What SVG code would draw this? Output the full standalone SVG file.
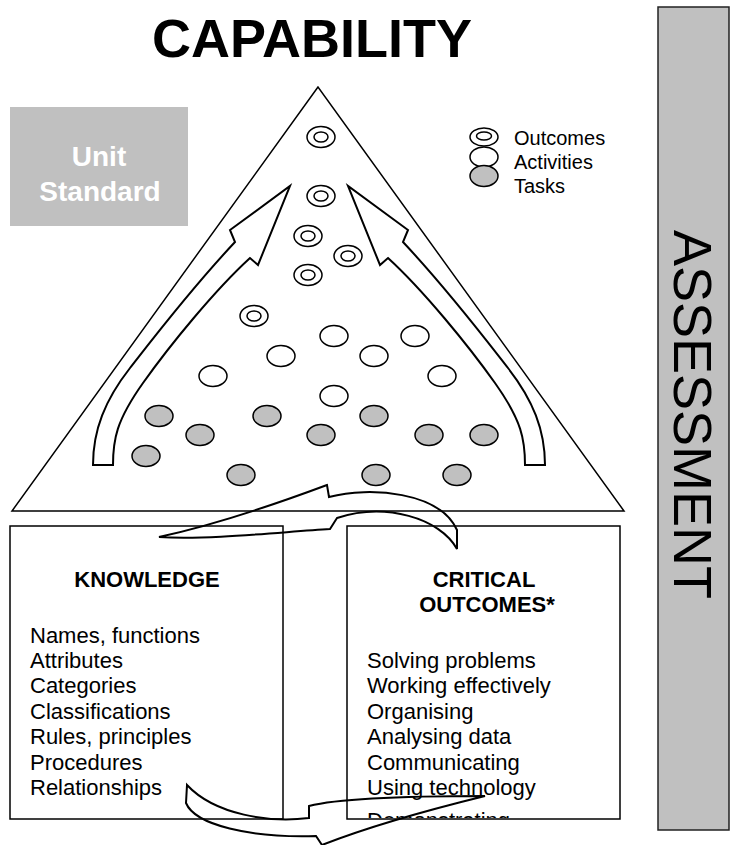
<svg xmlns="http://www.w3.org/2000/svg" width="731" height="845" viewBox="0 0 731 845">
  <style>
    text { font-family: "Liberation Sans", Arial, sans-serif; fill: #000; }
    .title { font-size: 54px; font-weight: bold; text-anchor: middle; }
    .unit { font-size: 28px; font-weight: bold; fill: #fff; text-anchor: middle; }
    .legend { font-size: 20px; }
    .head { font-size: 22px; font-weight: bold; text-anchor: middle; }
    .item { font-size: 22px; }
    .vert { font-size: 54px; }
    .frame { fill: #fff; stroke: #000; stroke-width: 1.5; }
    .grey { fill: #c0c0c0; }
    .ring { fill: #fff; stroke: #000; stroke-width: 1.5; }
    .task { fill: #c0c0c0; stroke: #000; stroke-width: 1.5; }
    .block { fill: #fff; stroke: #000; stroke-width: 2; stroke-linejoin: miter; }
    .swoop { fill: none; stroke: #000; stroke-width: 2; stroke-linejoin: miter; }
  </style>
  <defs>
    <g id="oc">
      <ellipse class="ring" rx="14" ry="10.5"/>
      <ellipse class="ring" rx="7" ry="5"/>
    </g>
    <clipPath id="coClip">
      <rect x="348" y="527" width="271" height="291"/>
    </clipPath>
    <!-- curved block arrow rising along the left side of the pyramid -->
    <path id="riser" d="M 93 465 C 93 430 105 400 130 368 S 190 290 235 242 L 230 230 L 290 186 L 258 265 L 250 258 C 215 290 170 345 143 383 S 113 440 113 465 Z"/>
  </defs>

  <!-- title -->
  <g id="title">
    <text class="title" x="312" y="57">CAPABILITY</text>
  </g>

  <!-- unit standard label -->
  <g id="unit-standard">
    <rect class="grey" x="10" y="107" width="178" height="119"/>
    <text class="unit" x="99" y="166">Unit</text>
    <text class="unit" x="100" y="201">Standard</text>
  </g>

  <!-- pyramid -->
  <g id="capability-pyramid">
    <polygon class="frame" points="318,87 12,511 624,511"/>
    <use href="#riser" class="block"/>
    <use href="#riser" class="block" transform="translate(638,0) scale(-1,1)"/>
    <!-- outcomes -->
    <use href="#oc" x="321" y="137"/>
    <use href="#oc" x="321" y="196"/>
    <use href="#oc" x="308" y="236"/>
    <use href="#oc" x="348" y="256"/>
    <use href="#oc" x="308" y="275"/>
    <use href="#oc" x="254" y="316"/>
    <!-- activities -->
    <ellipse class="ring" cx="334" cy="336" rx="14" ry="10.5"/>
    <ellipse class="ring" cx="415" cy="336" rx="14" ry="10.5"/>
    <ellipse class="ring" cx="281" cy="356" rx="14" ry="10.5"/>
    <ellipse class="ring" cx="374" cy="356" rx="14" ry="10.5"/>
    <ellipse class="ring" cx="213" cy="376" rx="14" ry="10.5"/>
    <ellipse class="ring" cx="442" cy="376" rx="14" ry="10.5"/>
    <ellipse class="ring" cx="334" cy="396" rx="14" ry="10.5"/>
    <!-- tasks -->
    <ellipse class="task" cx="159" cy="416" rx="14" ry="10.5"/>
    <ellipse class="task" cx="267" cy="416" rx="14" ry="10.5"/>
    <ellipse class="task" cx="374" cy="416" rx="14" ry="10.5"/>
    <ellipse class="task" cx="200" cy="435" rx="14" ry="10.5"/>
    <ellipse class="task" cx="321" cy="435" rx="14" ry="10.5"/>
    <ellipse class="task" cx="429" cy="435" rx="14" ry="10.5"/>
    <ellipse class="task" cx="484" cy="435" rx="14" ry="10.5"/>
    <ellipse class="task" cx="146" cy="456" rx="14" ry="10.5"/>
    <ellipse class="task" cx="241" cy="475" rx="14" ry="10.5"/>
    <ellipse class="task" cx="376" cy="475" rx="14" ry="10.5"/>
    <ellipse class="task" cx="457" cy="475" rx="14" ry="10.5"/>
  </g>

  <!-- key -->
  <g id="legend">
    <ellipse class="ring" cx="484" cy="137" rx="14" ry="9"/>
    <ellipse class="ring" cx="484" cy="136" rx="7.5" ry="4"/>
    <ellipse class="ring" cx="484" cy="157" rx="14" ry="10"/>
    <ellipse class="task" cx="484" cy="176" rx="14" ry="10.5"/>
    <text class="legend" x="514" y="145">Outcomes</text>
    <text class="legend" x="514" y="169">Activities</text>
    <text class="legend" x="514" y="193">Tasks</text>
  </g>

  <!-- knowledge -->
  <g id="knowledge">
    <rect class="frame" x="10" y="526" width="273" height="293"/>
    <text class="head" x="147" y="587">KNOWLEDGE</text>
    <text class="item" x="30" y="643">Names, functions</text>
    <text class="item" x="30" y="668">Attributes</text>
    <text class="item" x="30" y="693">Categories</text>
    <text class="item" x="30" y="719">Classifications</text>
    <text class="item" x="30" y="744">Rules, principles</text>
    <text class="item" x="30" y="770">Procedures</text>
    <text class="item" x="30" y="795">Relationships</text>
  </g>

  <!-- critical outcomes -->
  <g id="critical-outcomes">
    <rect class="frame" x="347" y="526" width="273" height="293"/>
    <text class="head" x="484" y="587">CRITICAL</text>
    <text class="head" x="487" y="612">OUTCOMES*</text>
    <g clip-path="url(#coClip)">
      <text class="item" x="367" y="668">Solving problems</text>
      <text class="item" x="367" y="693">Working effectively</text>
      <text class="item" x="367" y="719">Organising</text>
      <text class="item" x="367" y="744">Analysing data</text>
      <text class="item" x="367" y="770">Communicating</text>
      <text class="item" x="367" y="795">Using technology</text>
      <text class="item" x="367" y="828">Demonstrating</text>
    </g>
  </g>

  <!-- assessment bar -->
  <g id="assessment">
    <rect x="658" y="7" width="71" height="823" fill="#c0c0c0" stroke="#222" stroke-width="1.5"/>
    <text class="vert" transform="translate(674,230) rotate(90)">ASSESSMENT</text>
  </g>

  <!-- connectors -->
  <g id="connectors">
    <path class="swoop" d="M 159 537 C 200 528 260 510 327 485 L 329 497 C 370 486 440 492 457 530 L 457 549 C 440 518 385 502 337 518 L 330 529 C 280 532 210 540 159 537 Z"/>
    <path class="swoop" d="M 187 785 L 186 803 C 195 825 250 838 316 836 L 322 845 C 360 830 420 812 485 796 C 420 796 340 798 309 806 L 309 818 C 270 823 215 815 187 785 Z"/>
  </g>
</svg>
